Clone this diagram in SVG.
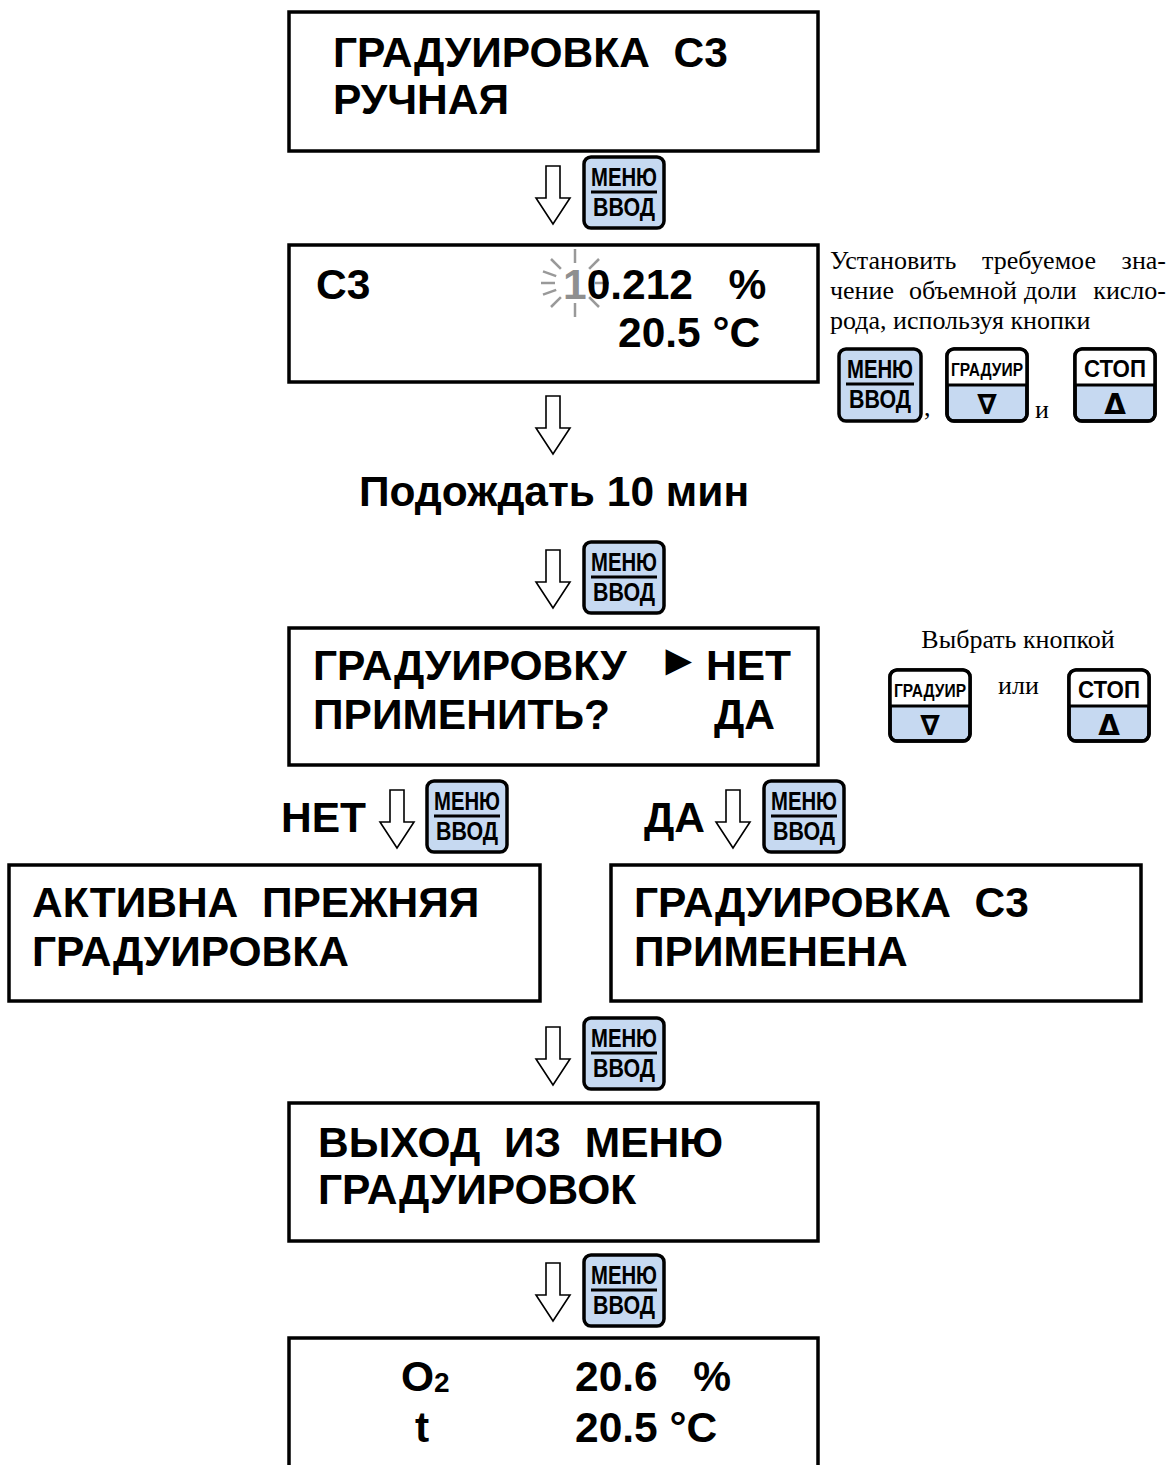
<svg xmlns="http://www.w3.org/2000/svg" width="1173" height="1465" viewBox="0 0 1173 1465">
<style>
.box{fill:#fff;stroke:#000;stroke-width:3.5}
.big{font-family:"Liberation Sans",Arial,sans-serif;font-weight:bold;font-size:42.5px;fill:#000}
.note{font-family:"Liberation Serif","Times New Roman",serif;font-size:26px;fill:#000}
.btn{fill:#c6d9f1;stroke:#000;stroke-width:3.5}
.btnw{fill:#fff;stroke:none}
.btno{fill:none;stroke:#000;stroke-width:3.5}
.bt{font-family:"Liberation Sans",Arial,sans-serif;font-weight:bold;font-size:25px;fill:#000;text-anchor:middle}
.bs{font-family:"Liberation Sans",Arial,sans-serif;font-weight:bold;font-size:18px;fill:#000;text-anchor:middle}
.bc{font-family:"Liberation Sans",Arial,sans-serif;font-weight:bold;font-size:23px;fill:#000;text-anchor:middle}
.tri{font-family:"DejaVu Sans",sans-serif;font-weight:bold;font-size:28px;fill:#000;text-anchor:middle}
.arr{fill:#fff;stroke:#000;stroke-width:1.6;stroke-linejoin:miter}
.ray{stroke:#999;stroke-width:2.5;stroke-linecap:butt}
.div{stroke:#000;stroke-width:3}
</style>

<g id="connectors">
  <path class="arr" d="M546,166 h14 v32 h10 l-17,26 l-17,-26 h10 z"/>
  <path class="arr" d="M546,396 h14 v32 h10 l-17,26 l-17,-26 h10 z"/>
  <path class="arr" d="M546,550 h14 v32 h10 l-17,26 l-17,-26 h10 z"/>
  <path class="arr" d="M390,790 h14 v32 h10 l-17,26 l-17,-26 h10 z"/>
  <path class="arr" d="M726,790 h14 v32 h10 l-17,26 l-17,-26 h10 z"/>
  <path class="arr" d="M546,1027 h14 v32 h10 l-17,26 l-17,-26 h10 z"/>
  <path class="arr" d="M546,1263 h14 v32 h10 l-17,26 l-17,-26 h10 z"/>
</g>

<g id="box1">
  <rect class="box" x="289" y="12" width="529" height="139"/>
  <text class="big" x="333" y="67" xml:space="preserve">ГРАДУИРОВКА  С3</text>
  <text class="big" x="333" y="114">РУЧНАЯ</text>
</g>

<g id="btn1">
  <rect class="btn" x="584" y="157" width="80" height="71" rx="7"/>
  <text class="bt" x="624" y="186" textLength="66" lengthAdjust="spacingAndGlyphs">МЕНЮ</text>
  <line class="div" x1="591" y1="192" x2="657" y2="192"/>
  <text class="bt" x="624" y="216" textLength="62" lengthAdjust="spacingAndGlyphs">ВВОД</text>
</g>

<g id="box2">
  <rect class="box" x="289" y="245" width="529" height="137"/>
  <g id="blink">
    <line class="ray" x1="595" y1="283" x2="609" y2="283"/>
    <line class="ray" x1="589.1" y1="297.1" x2="599" y2="307"/>
    <line class="ray" x1="575" y1="303" x2="575" y2="317"/>
    <line class="ray" x1="560.9" y1="297.1" x2="551" y2="307"/>
    <line class="ray" x1="556.2" y1="289.8" x2="543" y2="294.6"/>
    <line class="ray" x1="555" y1="283" x2="541" y2="283"/>
    <line class="ray" x1="556.2" y1="276.2" x2="543" y2="271.4"/>
    <line class="ray" x1="560.9" y1="268.9" x2="551" y2="259"/>
    <line class="ray" x1="575" y1="263" x2="575" y2="249"/>
    <line class="ray" x1="589.1" y1="268.9" x2="599" y2="259"/>
  </g>
  <text class="big" x="316" y="299">С3</text>
  <text class="big" x="563" y="299" xml:space="preserve"><tspan fill="#8f8f8f">1</tspan>0.212   %</text>
  <text class="big" x="618" y="347">20.5 °C</text>
</g>

<g id="note1">
  <text class="note" x="830" y="269">Установить</text>
  <text class="note" x="982" y="269">требуемое</text>
  <text class="note" x="1166" y="269" text-anchor="end">зна-</text>
  <text class="note" x="830" y="299">чение</text>
  <text class="note" x="909" y="299">объемной</text>
  <text class="note" x="1024" y="299">доли</text>
  <text class="note" x="1166" y="299" text-anchor="end">кисло-</text>
  <text class="note" x="830" y="329">рода, используя кнопки</text>
  <g id="note1-menu">
    <rect class="btn" x="839" y="349" width="82" height="72" rx="7"/>
    <text class="bt" x="880" y="378" textLength="66" lengthAdjust="spacingAndGlyphs">МЕНЮ</text>
    <line class="div" x1="846" y1="384" x2="914" y2="384"/>
    <text class="bt" x="880" y="408" textLength="62" lengthAdjust="spacingAndGlyphs">ВВОД</text>
  </g>
  <text class="note" x="924" y="416">,</text>
  <g id="note1-grad">
    <rect class="btn" x="947" y="349" width="80" height="72" rx="7"/>
    <path class="btnw" d="M947,385 V356 Q947,349 954,349 H1020 Q1027,349 1027,356 V385 Z"/>
    <rect class="btno" x="947" y="349" width="80" height="72" rx="7"/>
    <line class="div" x1="947" y1="385" x2="1027" y2="385"/>
    <text class="bs" x="987" y="376" textLength="72" lengthAdjust="spacingAndGlyphs">ГРАДУИР</text>
    <text class="tri" x="987" y="414">∇</text>
  </g>
  <text class="note" x="1035" y="418">и</text>
  <g id="note1-stop">
    <rect class="btn" x="1075" y="349" width="80" height="72" rx="7"/>
    <path class="btnw" d="M1075,385 V356 Q1075,349 1082,349 H1148 Q1155,349 1155,356 V385 Z"/>
    <rect class="btno" x="1075" y="349" width="80" height="72" rx="7"/>
    <line class="div" x1="1075" y1="385" x2="1155" y2="385"/>
    <text class="bc" x="1115" y="377" textLength="62" lengthAdjust="spacingAndGlyphs">СТОП</text>
    <text class="tri" x="1115" y="414">Δ</text>
  </g>
</g>

<g id="wait">
  <text class="big" x="554" y="506" text-anchor="middle">Подождать 10 мин</text>
</g>

<g id="btn3">
  <rect class="btn" x="584" y="542" width="80" height="71" rx="7"/>
  <text class="bt" x="624" y="571" textLength="66" lengthAdjust="spacingAndGlyphs">МЕНЮ</text>
  <line class="div" x1="591" y1="577" x2="657" y2="577"/>
  <text class="bt" x="624" y="601" textLength="62" lengthAdjust="spacingAndGlyphs">ВВОД</text>
</g>

<g id="box3">
  <rect class="box" x="289" y="628" width="529" height="137"/>
  <text class="big" x="313" y="680">ГРАДУИРОВКУ</text>
  <text x="657" y="675" style="font-family:'Liberation Sans',Arial,sans-serif;font-size:44px;fill:#000">►</text>
  <text class="big" x="706" y="680">НЕТ</text>
  <text class="big" x="313" y="729">ПРИМЕНИТЬ?</text>
  <text class="big" x="714" y="729">ДА</text>
</g>

<g id="note2">
  <text class="note" x="1018" y="648" text-anchor="middle">Выбрать кнопкой</text>
  <g id="note2-grad">
    <rect class="btn" x="890" y="670" width="80" height="71" rx="7"/>
    <path class="btnw" d="M890,706 V677 Q890,670 897,670 H963 Q970,670 970,677 V706 Z"/>
    <rect class="btno" x="890" y="670" width="80" height="71" rx="7"/>
    <line class="div" x1="890" y1="706" x2="970" y2="706"/>
    <text class="bs" x="930" y="697" textLength="72" lengthAdjust="spacingAndGlyphs">ГРАДУИР</text>
    <text class="tri" x="930" y="735">∇</text>
  </g>
  <text class="note" x="998" y="694">или</text>
  <g id="note2-stop">
    <rect class="btn" x="1069" y="670" width="80" height="71" rx="7"/>
    <path class="btnw" d="M1069,706 V677 Q1069,670 1076,670 H1142 Q1149,670 1149,677 V706 Z"/>
    <rect class="btno" x="1069" y="670" width="80" height="71" rx="7"/>
    <line class="div" x1="1069" y1="706" x2="1149" y2="706"/>
    <text class="bc" x="1109" y="698" textLength="62" lengthAdjust="spacingAndGlyphs">СТОП</text>
    <text class="tri" x="1109" y="735">Δ</text>
  </g>
</g>

<g id="label-net">
  <text class="big" x="281" y="832">НЕТ</text>
  <rect class="btn" x="427" y="781" width="80" height="71" rx="7"/>
  <text class="bt" x="467" y="810" textLength="66" lengthAdjust="spacingAndGlyphs">МЕНЮ</text>
  <line class="div" x1="434" y1="816" x2="500" y2="816"/>
  <text class="bt" x="467" y="840" textLength="62" lengthAdjust="spacingAndGlyphs">ВВОД</text>
</g>

<g id="label-da">
  <text class="big" x="644" y="832">ДА</text>
  <rect class="btn" x="764" y="781" width="80" height="71" rx="7"/>
  <text class="bt" x="804" y="810" textLength="66" lengthAdjust="spacingAndGlyphs">МЕНЮ</text>
  <line class="div" x1="771" y1="816" x2="837" y2="816"/>
  <text class="bt" x="804" y="840" textLength="62" lengthAdjust="spacingAndGlyphs">ВВОД</text>
</g>

<g id="box-left">
  <rect class="box" x="9" y="865" width="531" height="136"/>
  <text class="big" x="32" y="917" xml:space="preserve">АКТИВНА  ПРЕЖНЯЯ</text>
  <text class="big" x="32" y="966">ГРАДУИРОВКА</text>
</g>

<g id="box-right">
  <rect class="box" x="611" y="865" width="530" height="136"/>
  <text class="big" x="634" y="917" xml:space="preserve">ГРАДУИРОВКА  С3</text>
  <text class="big" x="634" y="966">ПРИМЕНЕНА</text>
</g>

<g id="btn5">
  <rect class="btn" x="584" y="1018" width="80" height="71" rx="7"/>
  <text class="bt" x="624" y="1047" textLength="66" lengthAdjust="spacingAndGlyphs">МЕНЮ</text>
  <line class="div" x1="591" y1="1053" x2="657" y2="1053"/>
  <text class="bt" x="624" y="1077" textLength="62" lengthAdjust="spacingAndGlyphs">ВВОД</text>
</g>

<g id="box5">
  <rect class="box" x="289" y="1103" width="529" height="138"/>
  <text class="big" x="318" y="1157" xml:space="preserve">ВЫХОД  ИЗ  МЕНЮ</text>
  <text class="big" x="318" y="1204">ГРАДУИРОВОК</text>
</g>

<g id="btn6">
  <rect class="btn" x="584" y="1255" width="80" height="71" rx="7"/>
  <text class="bt" x="624" y="1284" textLength="66" lengthAdjust="spacingAndGlyphs">МЕНЮ</text>
  <line class="div" x1="591" y1="1290" x2="657" y2="1290"/>
  <text class="bt" x="624" y="1314" textLength="62" lengthAdjust="spacingAndGlyphs">ВВОД</text>
</g>

<g id="box6">
  <rect class="box" x="289" y="1338" width="529" height="140"/>
  <text class="big" x="401" y="1391">O<tspan font-size="28" dy="1">2</tspan></text>
  <text class="big" x="575" y="1391" xml:space="preserve">20.6   %</text>
  <text class="big" x="415" y="1442">t</text>
  <text class="big" x="575" y="1442">20.5 °C</text>
</g>
</svg>
